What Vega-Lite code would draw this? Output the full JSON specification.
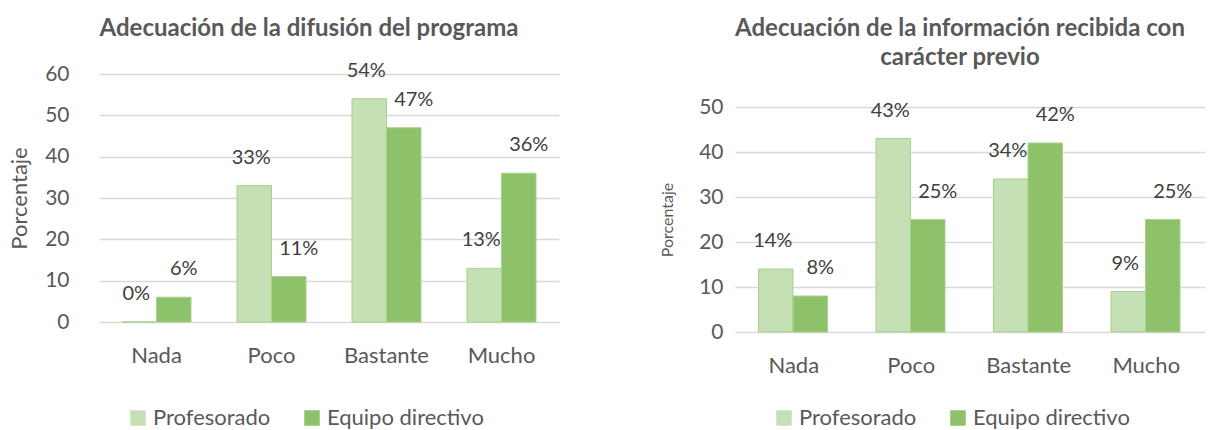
{
  "$schema": "https://vega.github.io/schema/vega-lite/v6.json",
  "padding": {"left": 8, "top": 16, "right": 5, "bottom": 0},
  "background": "white",
  "spacing": 100,
  "config": {
    "font": "Lato",
    "view": {"stroke": null},
    "axis": {"labelColor": "#595959", "titleColor": "#595959", "domain": false, "ticks": false, "gridColor": "#D9D9D9", "gridWidth": 1.5, "labelFont": "Lato", "titleFont": "Lato", "titleFontWeight": "normal"},
    "title": {"font": "Lato", "fontWeight": "bold", "fontSize": 24, "color": "#595959", "anchor": "middle", "lineHeight": 29},
    "legend": {"orient": "none", "direction": "horizontal", "title": null, "labelFontSize": 22, "labelColor": "#595959", "symbolType": "square", "symbolSize": 240, "symbolStrokeWidth": 0, "columnPadding": 30, "labelFont": "Lato"}
  },
  "resolve": {"legend": {"color": "independent"}},
  "datasets": {
    "a": [
      {"cat": "Nada", "grupo": "Profesorado", "valor": 0, "etiqueta": "0%"},
      {"cat": "Nada", "grupo": "Equipo directivo", "valor": 6, "etiqueta": "6%"},
      {"cat": "Poco", "grupo": "Profesorado", "valor": 33, "etiqueta": "33%"},
      {"cat": "Poco", "grupo": "Equipo directivo", "valor": 11, "etiqueta": "11%"},
      {"cat": "Bastante", "grupo": "Profesorado", "valor": 54, "etiqueta": "54%"},
      {"cat": "Bastante", "grupo": "Equipo directivo", "valor": 47, "etiqueta": "47%"},
      {"cat": "Mucho", "grupo": "Profesorado", "valor": 13, "etiqueta": "13%"},
      {"cat": "Mucho", "grupo": "Equipo directivo", "valor": 36, "etiqueta": "36%"}
    ],
    "b": [
      {"cat": "Nada", "grupo": "Profesorado", "valor": 14, "etiqueta": "14%"},
      {"cat": "Nada", "grupo": "Equipo directivo", "valor": 8, "etiqueta": "8%"},
      {"cat": "Poco", "grupo": "Profesorado", "valor": 43, "etiqueta": "43%"},
      {"cat": "Poco", "grupo": "Equipo directivo", "valor": 25, "etiqueta": "25%"},
      {"cat": "Bastante", "grupo": "Profesorado", "valor": 34, "etiqueta": "34%"},
      {"cat": "Bastante", "grupo": "Equipo directivo", "valor": 42, "etiqueta": "42%"},
      {"cat": "Mucho", "grupo": "Profesorado", "valor": 9, "etiqueta": "9%"},
      {"cat": "Mucho", "grupo": "Equipo directivo", "valor": 25, "etiqueta": "25%"}
    ]
  },
  "hconcat": [
    {
      "title": {"text": "Adecuación de la difusión del programa", "offset": 20, "dx": -20},
      "width": 460,
      "height": 248,
      "data": {"name": "a"},
      "encoding": {
        "x": {"field": "cat", "type": "nominal", "sort": ["Nada", "Poco", "Bastante", "Mucho"], "scale": {"paddingInner": 0.4, "paddingOuter": 0.2}, "axis": {"title": null, "labelAngle": 0, "labelFontSize": 22, "labelPadding": 23}},
        "xOffset": {"field": "grupo", "type": "nominal", "sort": ["Profesorado", "Equipo directivo"]},
        "y": {"field": "valor", "type": "quantitative", "scale": {"domain": [0, 60]}, "axis": {"title": "Porcentaje", "titleFontSize": 22, "labelFontSize": 21, "values": [0, 10, 20, 30, 40, 50, 60], "labelPadding": 30, "titlePadding": 13}}
      },
      "layer": [
        {
          "mark": {"type": "bar", "stroke": "#A9D18E", "strokeWidth": 1},
          "encoding": {
            "color": {"field": "grupo", "type": "nominal", "sort": ["Profesorado", "Equipo directivo"], "scale": {"domain": ["Profesorado", "Equipo directivo"], "range": ["#C5E0B4", "#8DC26A"]}, "legend": {"legendX": 28, "legendY": 333}}
          }
        },
        {
          "transform": [{"filter": "datum.grupo === 'Profesorado'"}],
          "mark": {"type": "text", "baseline": "bottom", "dy": -18, "dx": -3, "fontSize": 20, "color": "#404040"},
          "encoding": {"text": {"field": "etiqueta", "type": "nominal"}}
        },
        {
          "transform": [{"filter": "datum.grupo === 'Equipo directivo'"}],
          "mark": {"type": "text", "baseline": "bottom", "dy": -18, "dx": 10, "fontSize": 20, "color": "#404040"},
          "encoding": {"text": {"field": "etiqueta", "type": "nominal"}}
        }
      ]
    },
    {
      "title": {"text": ["Adecuación de la información recibida con", "carácter previo"], "offset": 4, "dx": -10},
      "width": 470,
      "height": 258,
      "data": {"name": "b"},
      "encoding": {
        "x": {"field": "cat", "type": "nominal", "sort": ["Nada", "Poco", "Bastante", "Mucho"], "scale": {"paddingInner": 0.4, "paddingOuter": 0.2}, "axis": {"title": null, "labelAngle": 0, "labelFontSize": 22, "labelPadding": 23}},
        "xOffset": {"field": "grupo", "type": "nominal", "sort": ["Profesorado", "Equipo directivo"]},
        "y": {"field": "valor", "type": "quantitative", "scale": {"domain": [0, 50], "range": [258, 33]}, "axis": {"title": "Porcentaje", "titleFontSize": 16, "labelFontSize": 21, "values": [0, 10, 20, 30, 40, 50], "labelPadding": 12, "titlePadding": 23}}
      },
      "layer": [
        {
          "mark": {"type": "bar", "stroke": "#A9D18E", "strokeWidth": 1},
          "encoding": {
            "color": {"field": "grupo", "type": "nominal", "sort": ["Profesorado", "Equipo directivo"], "scale": {"domain": ["Profesorado", "Equipo directivo"], "range": ["#C5E0B4", "#8DC26A"]}, "legend": {"legendX": 38, "legendY": 333}}
          }
        },
        {
          "transform": [{"filter": "datum.grupo === 'Profesorado'"}],
          "mark": {"type": "text", "baseline": "bottom", "dy": -18, "dx": -3, "fontSize": 20, "color": "#404040"},
          "encoding": {"text": {"field": "etiqueta", "type": "nominal"}}
        },
        {
          "transform": [{"filter": "datum.grupo === 'Equipo directivo'"}],
          "mark": {"type": "text", "baseline": "bottom", "dy": -18, "dx": 10, "fontSize": 20, "color": "#404040"},
          "encoding": {"text": {"field": "etiqueta", "type": "nominal"}}
        }
      ]
    }
  ]
}
